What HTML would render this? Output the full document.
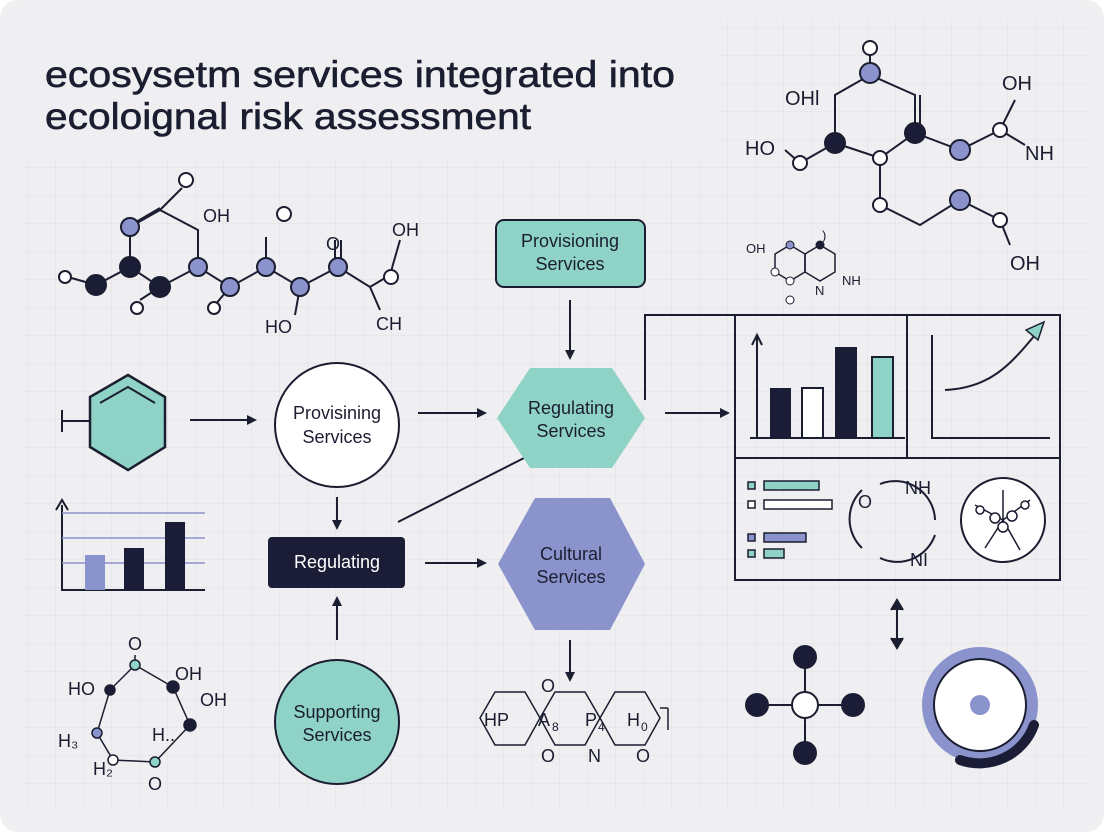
<!DOCTYPE html>
<html><head><meta charset="utf-8"><style>
html,body{margin:0;padding:0;background:#fff;}
svg{display:block;font-family:"Liberation Sans",sans-serif;}
</style></head><body>
<svg width="1104" height="832" viewBox="0 0 1104 832" xmlns="http://www.w3.org/2000/svg">
<defs>
<pattern id="g" width="28" height="28" patternUnits="userSpaceOnUse">
<path d="M28 0V28H0" fill="none" stroke="#e0e0e4" stroke-width="1"/>
</pattern>
<marker id="a" markerWidth="10" markerHeight="10" refX="8" refY="5" orient="auto" markerUnits="userSpaceOnUse">
<path d="M0 0L10 5L0 10z" fill="#1b1d30"/>
</marker>
</defs>
<rect x="0" y="0" width="1104" height="832" rx="18" fill="#efeff1"/>
<rect x="20" y="160" width="1070" height="650" fill="url(#g)"/>
<rect x="720" y="20" width="370" height="300" fill="url(#g)"/>

<g fill="#1b1d30" stroke="#1b1d30" stroke-width="0.6" font-size="37">
<text x="45" y="87" textLength="630" lengthAdjust="spacingAndGlyphs">ecosysetm services integrated into</text>
<text x="45" y="129" textLength="486" lengthAdjust="spacingAndGlyphs">ecoloignal risk assessment</text>
</g>

<g stroke="#1b1d30" stroke-width="2" fill="none" marker-end="url(#a)">
<line x1="190" y1="420" x2="255" y2="420"/>
<line x1="418" y1="413" x2="485" y2="413"/>
<line x1="570" y1="300" x2="570" y2="358"/>
<line x1="665" y1="413" x2="728" y2="413"/>
<line x1="337" y1="497" x2="337" y2="528"/>
<line x1="337" y1="640" x2="337" y2="598"/>
<line x1="425" y1="563" x2="485" y2="563"/>
<line x1="570" y1="640" x2="570" y2="680"/>
</g>
<g stroke="#1b1d30" stroke-width="2" fill="none">
<polyline points="645,400 645,315 735,315"/>
<line x1="398" y1="522" x2="530" y2="455"/>
<line x1="897" y1="602" x2="897" y2="646"/>
<path d="M891 610L897 600L903 610M891 638L897 648L903 638" fill="#1b1d30"/>
</g>

<polygon points="128,375 165,397 165,447 128,470 90,447 90,397" fill="#8fd3c7" stroke="#1b1d30" stroke-width="2.5"/>
<polyline points="100,403 128,387 155,403" fill="none" stroke="#1b1d30" stroke-width="2"/>
<line x1="62" y1="410" x2="62" y2="432" stroke="#1b1d30" stroke-width="2"/>
<line x1="62" y1="421" x2="90" y2="421" stroke="#1b1d30" stroke-width="2"/>

<circle cx="337" cy="425" r="62" fill="#fff" stroke="#1b1d30" stroke-width="2"/>
<text x="337" y="419" font-size="18" text-anchor="middle" fill="#1b1d30">Provisining</text>
<text x="337" y="443" font-size="18" text-anchor="middle" fill="#1b1d30">Services</text>

<rect x="496" y="220" width="149" height="67" rx="8" fill="#8fd3c7" stroke="#1b1d30" stroke-width="2"/>
<text x="570" y="247" font-size="18" text-anchor="middle" fill="#1b1d30">Provisioning</text>
<text x="570" y="270" font-size="18" text-anchor="middle" fill="#1b1d30">Services</text>

<polygon points="530,368 612,368 645,418 612,468 530,468 497,418" fill="#8fd3c7" stroke-linejoin="round"/>
<text x="571" y="414" font-size="18" text-anchor="middle" fill="#1b1d30">Regulating</text>
<text x="571" y="437" font-size="18" text-anchor="middle" fill="#1b1d30">Services</text>

<rect x="268" y="537" width="137" height="51" rx="4" fill="#1b1d36"/>
<text x="337" y="568" font-size="18" text-anchor="middle" fill="#fff">Regulating</text>

<circle cx="337" cy="722" r="62" fill="#8fd3c7" stroke="#1b1d30" stroke-width="2"/>
<text x="337" y="718" font-size="18" text-anchor="middle" fill="#1b1d30">Supporting</text>
<text x="337" y="741" font-size="18" text-anchor="middle" fill="#1b1d30">Services</text>

<polygon points="535,498 610,498 645,564 610,630 535,630 498,564" fill="#8b93cc" stroke-linejoin="round"/>
<text x="571" y="560" font-size="18" text-anchor="middle" fill="#1b1d30">Cultural</text>
<text x="571" y="583" font-size="18" text-anchor="middle" fill="#1b1d30">Services</text>

<g stroke="#1b1d30" stroke-width="2" fill="none">
<polyline points="62,505 62,590 205,590"/>
<path d="M56 510L62 500L68 510"/>
</g>
<g stroke="#8b93cc" stroke-width="1.5"><line x1="62" y1="513" x2="205" y2="513"/><line x1="62" y1="538" x2="205" y2="538"/><line x1="62" y1="563" x2="205" y2="563"/></g>
<rect x="85" y="555" width="20" height="35" fill="#8b93cc"/>
<rect x="124" y="548" width="20" height="42" fill="#1b1d36"/>
<rect x="165" y="522" width="20" height="68" fill="#1b1d36"/>

<g stroke="#1b1d30" stroke-width="2" fill="none">
<rect x="735" y="315" width="325" height="265"/>
<line x1="735" y1="458" x2="1060" y2="458"/>
<line x1="907" y1="315" x2="907" y2="458"/>
<line x1="750" y1="438" x2="905" y2="438"/>
<line x1="757" y1="438" x2="757" y2="337"/>
<path d="M752 345L757 335L762 345"/>
<polyline points="932,335 932,438 1050,438"/>
<path d="M945 390 C990 388 1010 365 1035 335"/>
</g>
<polygon points="1026,330 1044,322 1038,340" fill="#8fd3c7" stroke="#1b1d30" stroke-width="1.5"/>
<rect x="770" y="388" width="21" height="50" fill="#1b1d36"/>
<rect x="802" y="388" width="21" height="50" fill="#fff" stroke="#1b1d30" stroke-width="2"/>
<rect x="835" y="347" width="22" height="91" fill="#1b1d36"/>
<rect x="872" y="357" width="21" height="81" fill="#8fd3c7" stroke="#1b1d30" stroke-width="2"/>
<g stroke="#1b1d30" stroke-width="1.5">
<rect x="748" y="482" width="7" height="7" fill="#8fd3c7"/><rect x="764" y="481" width="55" height="9" fill="#8fd3c7"/>
<rect x="748" y="501" width="7" height="7" fill="#fff"/><rect x="764" y="500" width="68" height="9" fill="#fff"/>
<rect x="748" y="534" width="7" height="7" fill="#8b93cc"/><rect x="764" y="533" width="42" height="9" fill="#8b93cc"/>
<rect x="748" y="550" width="7" height="7" fill="#8fd3c7"/><rect x="764" y="549" width="20" height="9" fill="#8fd3c7"/>
</g>
<path d="M880 484 A40 40 0 0 1 935 520 M935 535 A40 40 0 0 1 880 558 M862 548 A40 40 0 0 1 862 490" fill="none" stroke="#1b1d30" stroke-width="2"/>
<text x="858" y="508" font-size="18" fill="#1b1d30">O</text>
<text x="905" y="494" font-size="18" fill="#1b1d30">NH</text>
<text x="910" y="566" font-size="18" fill="#1b1d30">NI</text>
<circle cx="1003" cy="520" r="42" fill="#fff" stroke="#1b1d30" stroke-width="2"/>
<g stroke="#1b1d30" stroke-width="1.5" fill="#fff">
<path d="M1003 520 L975 505 M1003 520 L1030 500 M1003 520 L985 548 M1003 520 L1020 550 M1003 520 L1003 490"/>
<circle cx="995" cy="518" r="5"/><circle cx="1012" cy="516" r="5"/><circle cx="1003" cy="527" r="5"/>
<circle cx="980" cy="510" r="4"/><circle cx="1025" cy="505" r="4"/>
</g>

<g stroke="#1b1d30" stroke-width="2">
<line x1="805" y1="657" x2="805" y2="753"/><line x1="757" y1="705" x2="853" y2="705"/>
</g>
<circle cx="805" cy="657" r="12" fill="#1b1d36"/><circle cx="805" cy="753" r="12" fill="#1b1d36"/>
<circle cx="757" cy="705" r="12" fill="#1b1d36"/><circle cx="853" cy="705" r="12" fill="#1b1d36"/>
<circle cx="805" cy="705" r="13" fill="#fff" stroke="#1b1d30" stroke-width="2"/>
<circle cx="980" cy="705" r="58" fill="#8b93cc"/>
<circle cx="980" cy="705" r="46" fill="#fff" stroke="#1b1d30" stroke-width="2"/>
<path d="M1034 725 A58 58 0 0 1 960 760" fill="none" stroke="#1b1d36" stroke-width="10" stroke-linecap="round"/>
<circle cx="980" cy="705" r="10" fill="#8b93cc"/>

<g stroke="#1b1d30" stroke-width="2" fill="none">
<polyline points="68,277 96,285 130,267 160,287 198,267 230,287 266,267 300,287 338,267 370,287"/>
<polyline points="130,267 130,227 160,210 198,230 198,267"/>
<line x1="136" y1="222" x2="160" y2="208"/>
<line x1="160" y1="210" x2="182" y2="188"/>
<line x1="230" y1="287" x2="215" y2="305"/>
<line x1="266" y1="267" x2="266" y2="237"/>
<line x1="300" y1="287" x2="295" y2="315"/>
<line x1="335" y1="267" x2="335" y2="240"/><line x1="341" y1="267" x2="341" y2="240"/>
<line x1="370" y1="287" x2="390" y2="275"/><line x1="390" y1="275" x2="400" y2="240"/>
<line x1="370" y1="287" x2="380" y2="310"/>
<line x1="160" y1="287" x2="140" y2="300"/>
</g>
<g stroke="#1b1d30" stroke-width="2">
<circle cx="65" cy="277" r="6" fill="#fff"/><circle cx="96" cy="285" r="10" fill="#1b1d36"/>
<circle cx="130" cy="267" r="10" fill="#1b1d36"/><circle cx="160" cy="287" r="10" fill="#1b1d36"/>
<circle cx="130" cy="227" r="9" fill="#8b93cc"/><circle cx="198" cy="267" r="9" fill="#8b93cc"/>
<circle cx="230" cy="287" r="9" fill="#8b93cc"/><circle cx="266" cy="267" r="9" fill="#8b93cc"/>
<circle cx="300" cy="287" r="9" fill="#8b93cc"/><circle cx="338" cy="267" r="9" fill="#8b93cc"/>
<circle cx="186" cy="180" r="7" fill="#fff"/><circle cx="214" cy="308" r="6" fill="#fff"/>
<circle cx="284" cy="214" r="7" fill="#fff"/><circle cx="391" cy="277" r="7" fill="#fff"/>
<circle cx="137" cy="308" r="6" fill="#fff"/>
</g>
<g font-size="18" fill="#1b1d30">
<text x="203" y="222">OH</text><text x="265" y="333">HO</text><text x="376" y="330">CH</text>
<text x="392" y="236">OH</text><text x="326" y="250">O</text>
</g>

<g stroke="#1b1d30" stroke-width="2" fill="none">
<polyline points="835,143 835,95 870,75 915,95 915,133 880,158 835,143"/>
<line x1="920" y1="95" x2="920" y2="133"/>
<polyline points="835,143 800,163 785,150"/>
<polyline points="915,133 960,150 1000,130 1015,100"/><line x1="1000" y1="130" x2="1025" y2="145"/>
<polyline points="880,158 880,205 920,225 960,200 1000,220 1010,245"/>
<line x1="870" y1="75" x2="870" y2="52"/>
</g>
<g stroke="#1b1d30" stroke-width="2">
<circle cx="870" cy="48" r="7" fill="#fff"/><circle cx="870" cy="73" r="10" fill="#8b93cc"/>
<circle cx="835" cy="143" r="10" fill="#1b1d36"/><circle cx="915" cy="133" r="10" fill="#1b1d36"/>
<circle cx="880" cy="158" r="7" fill="#fff"/><circle cx="800" cy="163" r="7" fill="#fff"/>
<circle cx="960" cy="150" r="10" fill="#8b93cc"/><circle cx="1000" cy="130" r="7" fill="#fff"/>
<circle cx="880" cy="205" r="7" fill="#fff"/><circle cx="960" cy="200" r="10" fill="#8b93cc"/>
<circle cx="1000" cy="220" r="7" fill="#fff"/>
</g>
<g font-size="20" fill="#1b1d30">
<text x="785" y="105">OHl</text><text x="745" y="155">HO</text><text x="1002" y="90">OH</text>
<text x="1025" y="160">NH</text><text x="1010" y="270">OH</text>
</g>
<g stroke="#1b1d30" stroke-width="1.5" fill="none">
<polygon points="790,245 805,254 805,272 790,281 775,272 775,254"/>
<polygon points="805,254 820,245 835,254 835,272 820,281 805,272"/>
</g>
<g font-size="13" fill="#1b1d30"><text x="746" y="253">OH</text><text x="842" y="285">NH</text><text x="815" y="295">N</text><text x="822" y="240">)</text></g>
<g stroke="#1b1d30"><circle cx="790" cy="245" r="4" fill="#8b93cc"/><circle cx="820" cy="245" r="4" fill="#1b1d36"/><circle cx="775" cy="272" r="4" fill="#fff"/><circle cx="790" cy="281" r="4" fill="#fff"/><circle cx="790" cy="300" r="4" fill="#fff"/></g>

<g stroke="#1b1d30" stroke-width="1.5" fill="none">
<polygon points="135,665 173,687 190,725 155,762 113,760 97,733 110,690"/>
<line x1="135" y1="665" x2="135" y2="655"/>
</g>
<g stroke="#1b1d30" stroke-width="1.5">
<circle cx="135" cy="665" r="5" fill="#8fd3c7"/><circle cx="173" cy="687" r="6" fill="#1b1d36"/>
<circle cx="190" cy="725" r="6" fill="#1b1d36"/><circle cx="155" cy="762" r="5" fill="#8fd3c7"/>
<circle cx="113" cy="760" r="5" fill="#fff"/><circle cx="97" cy="733" r="5" fill="#8b93cc"/>
<circle cx="110" cy="690" r="5" fill="#1b1d36"/>
</g>
<g font-size="18" fill="#1b1d30">
<text x="128" y="650">O</text><text x="68" y="695">HO</text><text x="175" y="680">OH</text><text x="200" y="706">OH</text>
<text x="58" y="747">H₃</text><text x="93" y="775">H₂</text><text x="148" y="790">O</text><text x="152" y="741">H..</text>
</g>

<g stroke="#1b1d30" stroke-width="1.5" fill="none">
<polygon points="480,718 495,692 525,692 540,718 525,745 495,745"/>
<polygon points="540,718 555,692 585,692 600,718 585,745 555,745"/>
<polygon points="600,718 615,692 645,692 660,718 645,745 615,745"/>
<line x1="660" y1="708" x2="668" y2="708"/><line x1="668" y1="708" x2="668" y2="730"/>
</g>
<g font-size="18" fill="#1b1d30">
<text x="484" y="726">HP</text><text x="538" y="726">A</text><text x="552" y="731" font-size="12">8</text>
<text x="585" y="726">P</text><text x="598" y="731" font-size="12">4</text>
<text x="627" y="726">H</text><text x="641" y="731" font-size="12">0</text>
<text x="541" y="692">O</text><text x="541" y="762">O</text><text x="588" y="762">N</text><text x="636" y="762">O</text>
</g>
</svg>
</body></html>
